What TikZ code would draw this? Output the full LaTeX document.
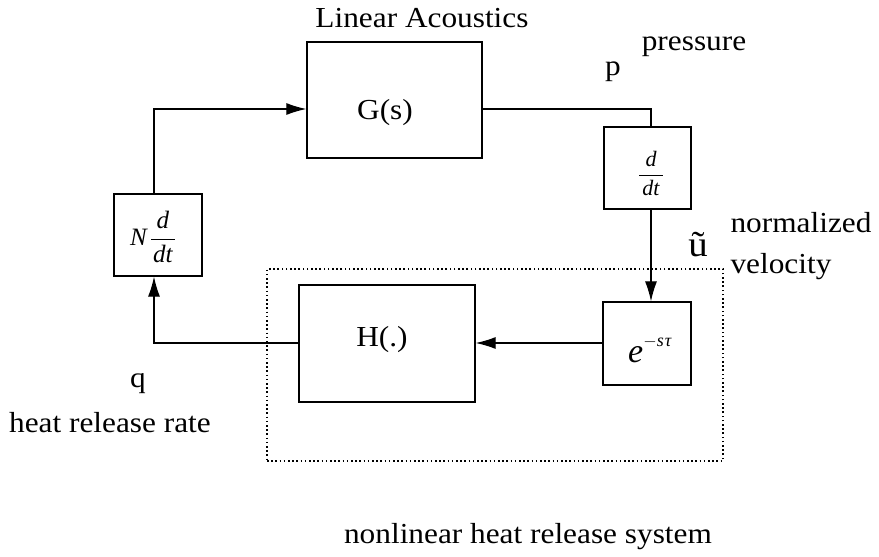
\documentclass[tikz,border=0pt]{standalone}
\usepackage{fontspec}
\setmainfont{Liberation Serif}
\newfontfamily\widefont[FakeStretch=1.08]{Liberation Serif}
\usetikzlibrary{arrows.meta}
\begin{document}
\begin{tikzpicture}[x=1pt,y=-1pt,
  blk/.style={draw,line width=1.3pt,inner sep=0pt,anchor=center},
  lbl/.style={font=\widefont\fontsize{29}{32}\selectfont,anchor=base,inner sep=0pt},
  conn/.style={line width=1.2pt},
  arr/.style={conn,-{Latex[length=20pt,width=12pt]}},
  dotbox/.style={draw,line width=1.6pt,dash pattern=on 1.6pt off 2.6pt,inner sep=0pt}]
\useasboundingbox (0,0) rectangle (879,557);
% blocks
\node[blk,minimum width=175pt,minimum height=116pt] (G) at (394.5,100) {};
\node[blk,minimum width=87pt,minimum height=82pt] (D) at (647.5,168) {};
\node[blk,minimum width=88pt,minimum height=83pt] (E) at (647,343.5) {};
\node[blk,minimum width=176pt,minimum height=117pt] (H) at (387,343.5) {};
\node[blk,minimum width=88pt,minimum height=82pt] (N) at (158,235) {};
\node[dotbox,minimum width=456pt,minimum height=192pt] (NL) at (495,365) {};
% block contents
\node[lbl] (Gt) at (385,119) {G(s)};
\node[lbl] (Ht) at (382,346) {H(.)};
\node[inner sep=0pt,font=\fontsize{22}{25}\selectfont] (Dt) at (651,172) {$\displaystyle\frac{\rule{0pt}{18pt}\textit{d}}{\kern3pt\textit{dt}\kern3pt}$};
\node[inner sep=0pt,font=\fontsize{22}{25}\selectfont] (Nt) at (153,237) {\fontsize{25}{27}\selectfont\textit{N}\kern2pt$\displaystyle\frac{\rule{0pt}{18pt}\textit{d}}{\kern2pt\textit{dt}\kern2pt}$};
\node[inner sep=0pt,anchor=base,font=\fontsize{34}{36}\selectfont] (Et) at (650,362) {\textit{e}\raisebox{16pt}{\fontsize{18}{18}\selectfont$-$\textit{s\kern1pt τ}}};
% connectors
\coordinate (c1) at (154,109);
\coordinate (c2) at (651,109);
\coordinate (c3) at (154,343);
\draw[arr] (N.north -| c1) |- (G.west |- c1);
\draw[conn] (G.east |- c2) -| (D.north -| c2);
\draw[arr] (D.south -| c2) -- (E.north -| c2);
\draw[arr] (E.west |- c3) -- (H.east |- c3);
\draw[arr] (H.west |- c3) -| (N.south -| c3);
% labels
\node[lbl] (la) at (422,27) {Linear Acoustics};
\node[lbl] (pr) at (694,50) {pressure};
\node[lbl] (p) at (613,75) {p};
\node[lbl] (nz) at (801,232) {normalized};
\node[lbl] (ve) at (781,273) {velocity};
\node[lbl,font=\widefont\fontsize{36}{38}\selectfont] (u) at (698,256) {ũ};
\node[lbl] (q) at (138,387) {q};
\node[lbl] (hr) at (110,432) {heat release rate};
\node[lbl] (nl) at (528,543) {nonlinear heat release system};
\end{tikzpicture}
\end{document}
